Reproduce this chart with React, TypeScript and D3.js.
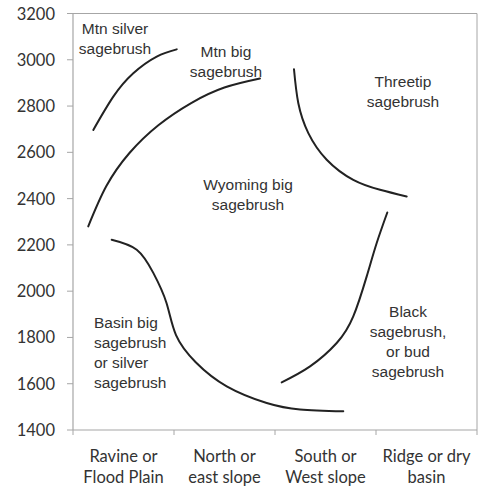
import * as d3 from 'd3';

const categories = ['Ravine or\nFlood Plain', 'North or\neast slope', 'South or\nWest slope', 'Ridge or dry\nbasin'];
const yTicks = [1400, 1600, 1800, 2000, 2200, 2400, 2600, 2800, 3000, 3200];

// curves: [category position (0..4), elevation]
const mtnSilver: [number, number][] = [[0.201, 2697], [0.399, 2841], [0.597, 2942], [0.829, 3014], [1.027, 3045]];
const mtnBig: [number, number][] = [[0.151, 2280], [0.329, 2453], [0.559, 2597], [0.845, 2717], [1.17, 2813], [1.499, 2880], [1.851, 2919]];
const threetip: [number, number][] = [[2.188, 2959], [2.231, 2812], [2.33, 2683], [2.512, 2568], [2.775, 2481], [3.04, 2438], [3.304, 2409]];
const black: [number, number][] = [[2.066, 1606], [2.347, 1675], [2.611, 1776], [2.775, 1891], [2.908, 2064], [3.007, 2208], [3.112, 2340]];
const basin: [number, number][] = [[0.383, 2222], [0.631, 2179], [0.795, 2079], [0.925, 1950], [1.02, 1810], [1.215, 1693], [1.522, 1589], [1.918, 1517], [2.248, 1489], [2.676, 1481]];

const curves = [mtnSilver, mtnBig, threetip, black, basin];

const labels = [
  { x: 0.416, y: 3137, lines: ['Mtn silver', 'sagebrush'], anchor: 'middle' },
  { x: 1.515, y: 3034, lines: ['Mtn big', 'sagebrush'], anchor: 'middle' },
  { x: 3.267, y: 2904, lines: ['Threetip', 'sagebrush'], anchor: 'middle' },
  { x: 1.733, y: 2460, lines: ['Wyoming big', 'sagebrush'], anchor: 'middle' },
  { x: 0.208, y: 1864, lines: ['Basin big', 'sagebrush', 'or silver', 'sagebrush'], anchor: 'start' },
  { x: 3.317, y: 1911, lines: ['Black', 'sagebrush,', 'or bud', 'sagebrush'], anchor: 'middle' },
];

export default function App() {
  const W = 478;
  const H = 487;
  const m = { left: 73, right: 1, top: 13.5, bottom: 57 };

  const x = d3.scaleLinear().domain([0, categories.length]).range([m.left, W - m.right]);
  const y = d3.scaleLinear().domain([1400, 3200]).range([H - m.bottom, m.top]);

  const line = d3.line<[number, number]>()
    .x(d => x(d[0]))
    .y(d => y(d[1]))
    .curve(d3.curveNatural);

  const axisColor = '#a6a6a6';
  const axisFont = 'Lato, "Open Sans", sans-serif';
  const labelFont = '"Liberation Sans", Arial, sans-serif';

  return (
    <svg width={W} height={H} style={{ position: 'absolute', left: 0, top: 0, background: '#fff' }}>
      {/* frame */}
      <line x1={x(0)} x2={x(4)} y1={y(3200)} y2={y(3200)} stroke={axisColor} strokeWidth={1} />
      <line x1={x(4)} x2={x(4)} y1={y(3200)} y2={y(1400)} stroke={axisColor} strokeWidth={1} />
      <line x1={x(0)} x2={x(0)} y1={y(3200)} y2={y(1400)} stroke={axisColor} strokeWidth={1.2} />
      <line x1={x(0)} x2={x(4)} y1={y(1400)} y2={y(1400)} stroke={axisColor} strokeWidth={1.2} />

      {/* y ticks */}
      {yTicks.map(t => (
        <g key={t}>
          <line x1={x(0) - 6} x2={x(0)} y1={y(t)} y2={y(t)} stroke={axisColor} />
          <text x={55} y={y(t)} dominantBaseline="central" textAnchor="end"
            fontFamily={axisFont} fontSize={16.5} fill="#333">{t}</text>
        </g>
      ))}

      {/* x ticks */}
      {d3.range(categories.length + 1).map(i => (
        <line key={i} x1={x(i)} x2={x(i)} y1={y(1400)} y2={y(1400) + 5} stroke={axisColor} />
      ))}
      {categories.map((c, i) => (
        <text key={c} x={x(i + 0.5)} y={y(1400)} textAnchor="middle"
          fontFamily={axisFont} fontSize={16.5} fill="#333">
          {c.split('\n').map((s, j) => (
            <tspan key={j} x={x(i + 0.5)} dy={j === 0 ? 32 : 21}>{s}</tspan>
          ))}
        </text>
      ))}

      {/* curves */}
      {curves.map((c, i) => (
        <path key={i} d={line(c) ?? ''} fill="none" stroke="#222" strokeWidth={2} strokeLinecap="round" />
      ))}

      {/* region labels */}
      {labels.map((l, i) => (
        <text key={i} textAnchor={l.anchor} fontFamily={labelFont} fontSize={15.5} fill="#333">
          {l.lines.map((s, j) => (
            <tspan key={j} x={x(l.x)} y={y(l.y) + j * 20} dominantBaseline="central">{s}</tspan>
          ))}
        </text>
      ))}
    </svg>
  );
}
